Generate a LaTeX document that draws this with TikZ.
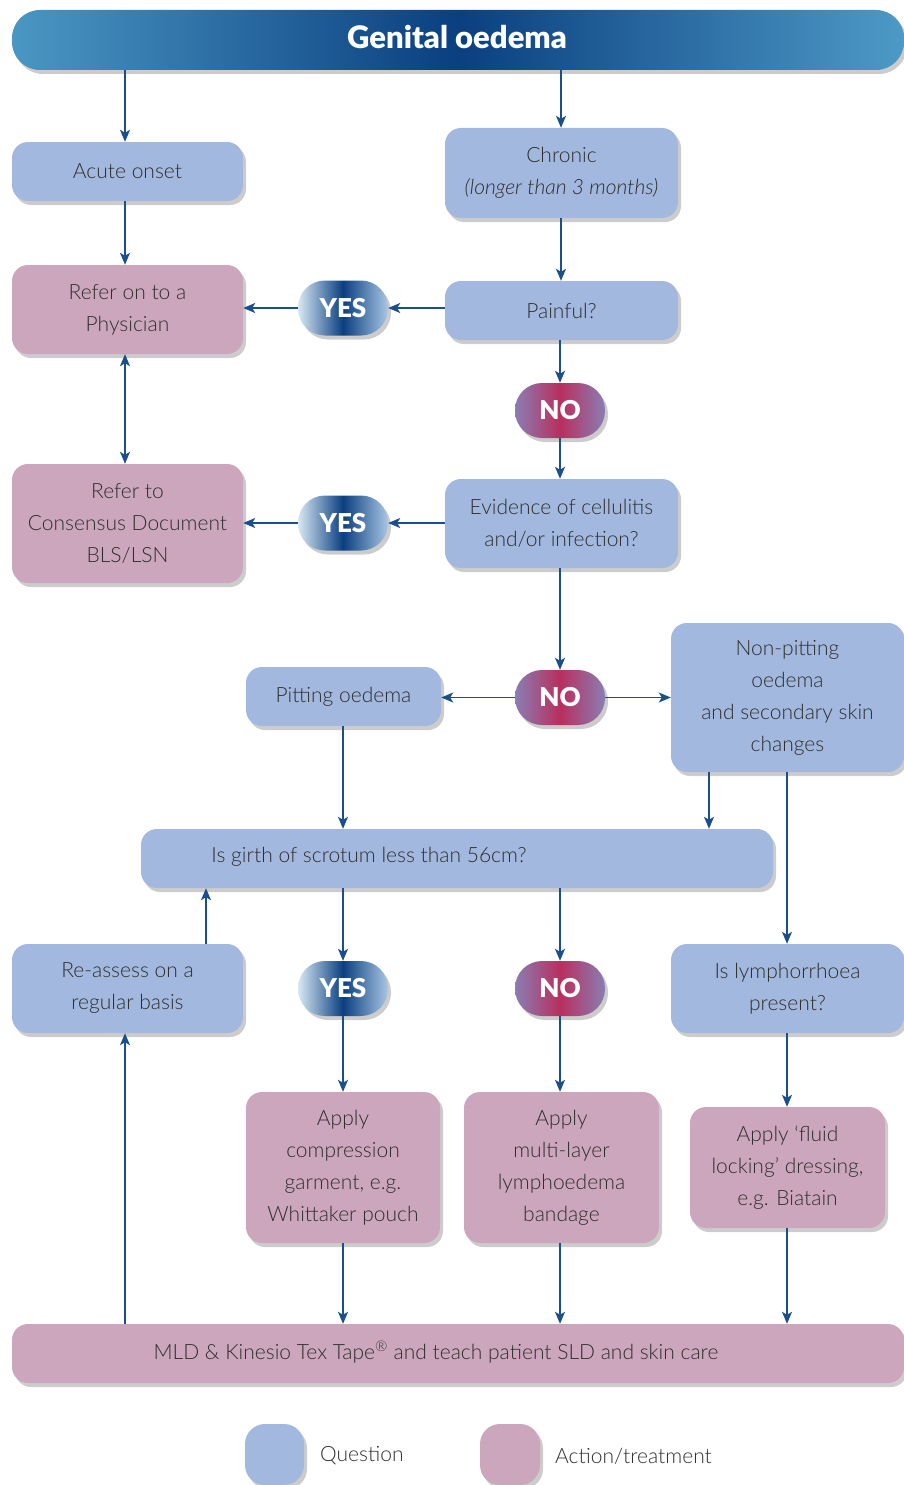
\documentclass[tikz,border=0pt]{standalone}
\usepackage{fontspec}
\setmainfont{Lato}[UprightFont=* Light, ItalicFont=* Light Italic, BoldFont=* Bold]
\newfontfamily\heavyfont{Lato Black}
\usetikzlibrary{shadows,arrows.meta,calc}
\definecolor{qblue}{HTML}{A3B8DE}
\definecolor{apink}{HTML}{CCA6BD}
\definecolor{arrcol}{HTML}{1B4F8B}
\definecolor{txtc}{HTML}{2E2E2E}
\definecolor{hdark}{HTML}{0A3F80}
\definecolor{hlight}{HTML}{4A97C3}
\definecolor{hright}{HTML}{4D9AC6}
\definecolor{ylight}{HTML}{D8E8F4}
\definecolor{yright}{HTML}{A9C6E4}
\definecolor{ydark}{HTML}{0A3F7F}
\definecolor{nedge}{HTML}{8A7DB3}
\definecolor{nmid}{HTML}{B82F5E}
\tikzset{
  shad/.style={drop shadow={opacity=0.4, shadow xshift=3pt, shadow yshift=-4pt}},
  box/.style={rectangle, rounded corners=16pt, shad, inner sep=0pt, align=center,
    text=txtc, font=\fontsize{21}{32}\selectfont},
  qbox/.style={box, fill=qblue},
  abox/.style={box, fill=apink},
  btxt/.style={inner sep=0pt, text=txtc, font=\fontsize{21}{32}\selectfont},
  oval/.style={rectangle, rounded corners=27pt, shad, minimum width=90pt,
    minimum height=55pt, inner sep=0pt, text=white, font=\heavyfont\fontsize{26}{30}\selectfont},
  yes/.style={oval, left color=ylight, right color=yright, middle color=ydark},
  no/.style={oval, left color=nedge, right color=nedge, middle color=nmid},
  tip/.tip={Stealth[length=12pt,width=10pt,inset=3pt]},
  arr/.style={draw=arrcol, line width=1.5pt, -tip},
  darr/.style={draw=arrcol, line width=1.5pt, tip-tip},
}
\begin{document}
\begin{tikzpicture}[x=1pt,y=-1pt]
\useasboundingbox (0,0) rectangle (904,1485);
% header
\node[rectangle, rounded corners=28pt, shad, minimum width=892pt, minimum height=60pt,
  left color=hlight, right color=hright, middle color=hdark, inner sep=0pt] (header) at (458,40) {};
\node[inner sep=0pt, text=white, font=\heavyfont\fontsize{31}{34}\selectfont] (headtxt) at (457,37) {Genital oedema};
% boxes
\node[qbox, minimum width=231pt, minimum height=59pt] (acute) at (127.5,171.5) {Acute onset};
\node[qbox, minimum width=233pt, minimum height=90pt] (chronic) at (561.5,173) {Chronic\\\itshape(longer than 3 months)};
\node[qbox, minimum width=233pt, minimum height=59pt] (painful) at (561.5,310.5) {Painful?};
\node[abox, minimum width=231pt, minimum height=89pt] (phys) at (127.5,309.5) {Refer on to a\\Physician};
\node[yes] (yes1) at (343,308) {YES};
\node[no] (no1) at (560,410.5) {NO};
\node[abox, minimum width=231pt, minimum height=119pt] (cons) at (127.5,523.5) {Refer to\\Consensus Document\\BLS/LSN};
\node[qbox, minimum width=233pt, minimum height=89pt] (evid) at (561.5,523.5) {Evidence of cellulitis\\and/or infection?};
\node[yes] (yes2) at (343,523) {YES};
\node[no] (no2) at (560,697.5) {NO};
\node[qbox, minimum width=195pt, minimum height=59pt] (pit) at (343.5,696.5) {Pitting oedema};
\node[qbox, minimum width=233pt, minimum height=149pt] (nonpit) at (787.5,697.5) {Non-pitting\\oedema\\and secondary skin\\changes};
\node[qbox, minimum width=632pt, minimum height=59pt] (girth) at (457,858.5) {};
\node[btxt] (girthtxt) at (369,857) {Is girth of scrotum less than 56cm?};
\node[qbox, minimum width=231pt, minimum height=89pt] (reassess) at (127.5,988.5) {Re-assess on a\\regular basis};
\node[yes] (yes3) at (343,988.5) {YES};
\node[no] (no3) at (560,988.5) {NO};
\node[qbox, minimum width=233pt, minimum height=89pt] (lymph) at (787.5,988.5) {Is lymphorrhoea\\present?};
\node[abox, minimum width=194pt, minimum height=151pt] (comp) at (343,1167.5) {Apply\\compression\\garment, e.g.\\Whittaker pouch};
\node[abox, minimum width=195pt, minimum height=151pt] (multi) at (561.5,1167.5) {Apply\\multi-layer\\lymphoedema\\bandage};
\node[abox, minimum width=195pt, minimum height=121pt] (fluid) at (787.5,1167.5) {Apply ‘fluid\\locking’ dressing,\\e.g. Biatain};
\node[abox, minimum width=892pt, minimum height=59pt] (bar) at (458,1353.5) {};
\node[btxt] (bartxt) at (436,1352) {MLD \& Kinesio Tex Tape\textsuperscript{®} and teach patient SLD and skin care};
% legend
\node[box, fill=qblue, rounded corners=20pt, minimum width=59pt, minimum height=61pt] (legq) at (274.5,1454.5) {};
\node[btxt, anchor=west] (legqt) at (320,1456) {Question};
\node[box, fill=apink, rounded corners=20pt, minimum width=60pt, minimum height=61pt] (lega) at (510,1454.5) {};
\node[btxt, anchor=west] (legat) at (555,1456) {Action/treatment};
% helper coordinates (x positions of vertical connectors)
\coordinate (xl) at (125,0);
\coordinate (xa) at (206,0);
\coordinate (xm) at (343,0);
\coordinate (xc) at (561,0);
\coordinate (xn) at (560,0);
\coordinate (xb) at (709,0);
\coordinate (xr) at (787,0);
% connectors
\draw[arr] (header.south -| xl) -- (acute.north -| xl);
\draw[arr] (header.south -| xc) -- (chronic.north -| xc);
\draw[arr] (chronic.south -| xc) -- (painful.north -| xc);
\draw[arr] (acute.south -| xl) -- (phys.north -| xl);
\draw[arr] (painful.west |- yes1.east) -- (yes1.east);
\draw[arr] (yes1.west) -- (phys.east |- yes1.west);
\draw[arr] (painful.south -| xn) -- (no1.north -| xn);
\draw[arr] (no1.south -| xn) -- (evid.north -| xn);
\draw[darr] (phys.south -| xl) -- (cons.north -| xl);
\draw[arr] (evid.west |- yes2.east) -- (yes2.east);
\draw[arr] (yes2.west) -- (cons.east |- yes2.west);
\draw[arr] (evid.south -| xn) -- (no2.north -| xn);
\draw[arr] (no2.west) -- (pit.east |- no2.west);
\draw[arr] (no2.east) -- (nonpit.west |- no2.east);
\draw[arr] (pit.south -| xm) -- (girth.north -| xm);
\draw[arr] (nonpit.south -| xb) -- (girth.north -| xb);
\draw[arr] (nonpit.south -| xr) -- (lymph.north -| xr);
\draw[arr] (reassess.north -| xa) -- (girth.south -| xa);
\draw[arr] (girth.south -| xm) -- (yes3.north -| xm);
\draw[arr] (girth.south -| xn) -- (no3.north -| xn);
\draw[arr] (yes3.south -| xm) -- (comp.north -| xm);
\draw[arr] (no3.south -| xn) -- (multi.north -| xn);
\draw[arr] (lymph.south -| xr) -- (fluid.north -| xr);
\draw[arr] (comp.south -| xm) -- (bar.north -| xm);
\draw[arr] (multi.south -| xn) -- (bar.north -| xn);
\draw[arr] (fluid.south -| xr) -- (bar.north -| xr);
\draw[arr] (bar.north -| xl) -- (reassess.south -| xl);
\end{tikzpicture}
\end{document}
